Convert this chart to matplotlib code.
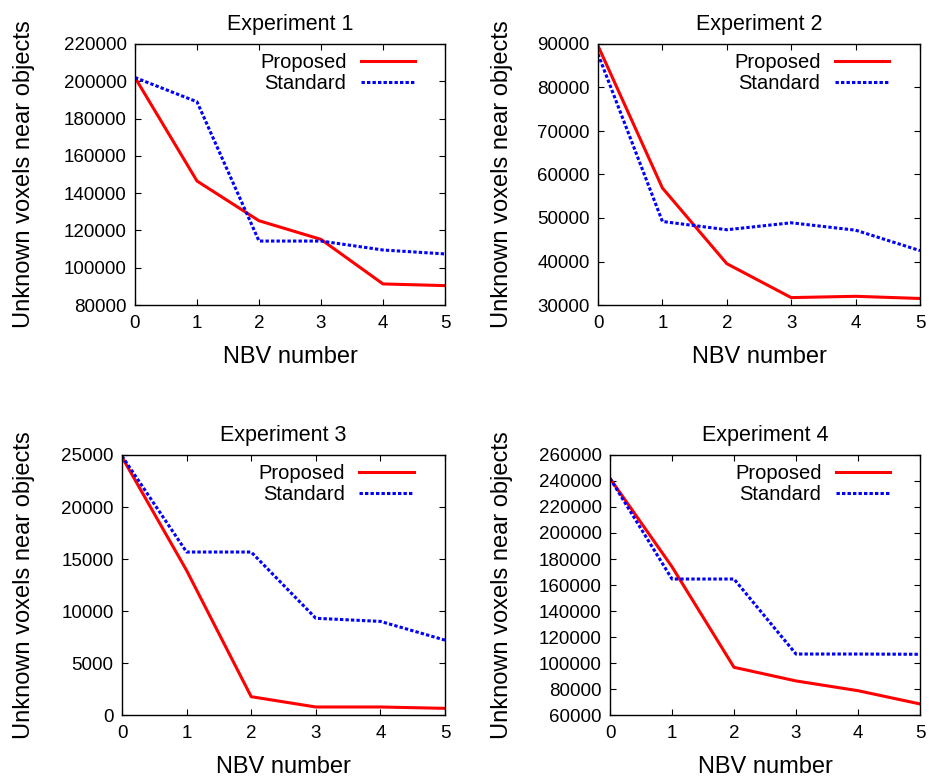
import numpy as np
import matplotlib.pyplot as plt

plt.rcParams['font.family'] = ['Liberation Sans', 'DejaVu Sans']

# -----------------------------
# Data
# -----------------------------
nbv = [0, 1, 2, 3, 4, 5]

exp1_proposed = [202000, 146500, 125200, 115200, 91300, 90400]
exp1_standard = [202000, 189000, 114300, 114300, 109500, 107400]

exp2_proposed = [89600, 56900, 39500, 31700, 32000, 31500]
exp2_standard = [87700, 49200, 47300, 48900, 47200, 42500]

exp3_proposed = [24800, 13900, 1760, 770, 770, 640]
exp3_standard = [24900, 15670, 15670, 9300, 9000, 7200]

exp4_proposed = [242000, 174000, 96700, 86200, 78700, 68500]
exp4_standard = [242000, 164600, 164600, 106900, 106900, 106700]

titles = ["Experiment 1", "Experiment 2", "Experiment 3", "Experiment 4"]
y_ticks = [
    np.arange(80000, 220001, 20000),
    np.arange(30000, 90001, 10000),
    np.arange(0, 25001, 5000),
    np.arange(60000, 260001, 20000),
]

proposed = [exp1_proposed, exp2_proposed, exp3_proposed, exp4_proposed]
standard = [exp1_standard, exp2_standard, exp3_standard, exp4_standard]

# -----------------------------
# Layout (axes rectangles in figure fractions)
# -----------------------------
W, H = 933, 779
boxes = [  # left, top, right, bottom in pixels
    (135, 44, 445, 305),
    (598, 44, 920, 305),
    (122, 455, 445, 715),
    (610, 455, 920, 715),
]
ylabel_x = [-0.323, -0.264, -0.269, -0.313]

fig = plt.figure(figsize=(W / 100, H / 100), dpi=100)

for i in range(4):
    l, t, r, b = boxes[i]
    ax = fig.add_axes([l / W, 1 - b / H, (r - l) / W, (b - t) / H])

    ax.plot(nbv, proposed[i], color="#ff0000", lw=2.2, label="Proposed")
    ax.plot(nbv, standard[i], color="#0000ff", lw=2.2,
            linestyle=(0, (1.1, 0.7)), label="Standard")

    ax.set_xlim(0, 5)
    ax.set_ylim(y_ticks[i][0], y_ticks[i][-1])
    ax.set_xticks(nbv)
    ax.set_yticks(y_ticks[i])

    ax.tick_params(direction="in", top=True, right=True, length=4,
                   width=0.8, labelsize=13.5)
    ax.tick_params(axis="x", pad=7)
    ax.tick_params(axis="y", pad=6)
    for s in ax.spines.values():
        s.set_linewidth(1.0)

    ax.set_title(titles[i], fontsize=15.5, pad=10)
    ax.set_xlabel("NBV number", fontsize=17)
    ax.set_ylabel("Unknown voxels near objects", fontsize=17)
    ax.xaxis.set_label_coords(0.5, -0.157)
    ax.yaxis.set_label_coords(ylabel_x[i], 0.5)

    leg = ax.legend(loc="upper right", bbox_to_anchor=(0.916, 0.981),
                    frameon=False, fontsize=14.5, markerfirst=False,
                    handlelength=2.7, handletextpad=0.7,
                    labelspacing=0.12, borderpad=0.2, borderaxespad=0)
    # right-align the entries like gnuplot keys
    for col in leg._legend_handle_box.get_children():
        col.align = "right"

plt.savefig("out.png", dpi=100, facecolor="white")
